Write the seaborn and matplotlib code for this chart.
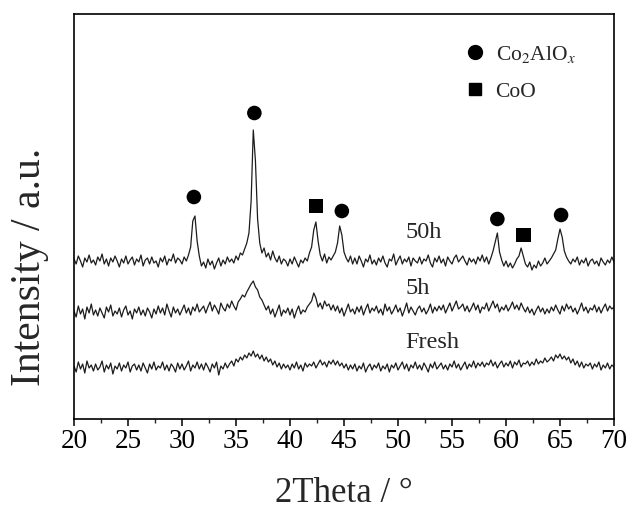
import numpy as np
import pandas as pd
import matplotlib
matplotlib.use("Agg")
import matplotlib.pyplot as plt
import seaborn as sns
from matplotlib.lines import Line2D

sns.set_theme(style="ticks")
plt.rcParams["font.family"] = ["Liberation Serif", "DejaVu Serif"]
plt.rcParams["mathtext.fontset"] = "stix"

# 2Theta grid: 20 .. 70 deg, step 0.2 deg
# ---- intensity values (arbitrary units, offset traces) ----
int_50h = [
    160,155,163,158,152,161,157,164,156,159,
    154,162,158,165,155,160,153,161,157,163,
    158,152,160,156,163,155,159,162,154,160,
    157,164,153,159,161,155,162,156,158,152,
    161,157,163,154,160,158,165,156,161,159,
    155,162,158,164,172,198,203,178,163,153,
    157,151,160,154,158,150,156,161,153,159,
    155,162,157,160,156,163,159,166,164,170,
    176,186,218,289,258,200,176,166,171,162,
    166,159,168,161,157,163,155,160,158,153,
    160,155,162,157,152,159,156,161,158,166,
    172,189,197,178,164,158,165,156,162,159,
    163,167,176,193,184,167,161,157,163,155,
    161,155,163,158,152,160,157,164,155,159,
    154,161,157,163,156,152,160,158,165,154,
    159,163,155,160,157,162,153,161,158,156,
    162,155,160,158,164,156,152,161,157,163,
    156,160,153,162,158,155,161,164,157,160,
    163,158,154,161,157,160,155,162,158,164,
    157,162,155,161,168,177,186,167,159,153,
    158,152,156,151,155,160,163,171,163,155,
    152,157,149,154,151,158,153,156,161,155,
    158,161,165,169,180,190,182,168,162,158,
    155,160,157,162,154,159,156,161,153,158,
    160,155,158,153,161,157,154,159,156,162,
    157,
]
int_5h = [
    108,102,113,105,110,100,112,106,115,104,
    109,103,111,106,101,112,107,114,103,108,
    105,111,102,109,113,104,108,100,110,106,
    112,104,109,103,111,107,101,110,105,113,
    106,111,104,115,108,102,112,106,110,104,
    109,114,106,111,104,112,108,115,107,110,
    113,106,112,117,108,114,110,105,116,111,
    108,115,111,118,113,109,117,120,124,122,
    127,131,135,138,132,129,122,119,114,109,
    113,105,110,102,108,114,103,109,106,111,
    104,110,101,108,113,105,109,107,112,115,
    118,126,121,112,116,110,118,113,115,109,
    114,108,113,106,111,103,109,115,107,110,
    105,112,107,113,104,110,115,106,111,108,
    113,106,110,104,115,108,112,105,109,114,
    107,111,103,109,116,106,112,108,104,110,
    113,107,111,105,109,115,106,112,108,113,
    109,114,106,111,116,108,113,118,110,112,
    115,108,113,107,111,116,109,114,106,112,
    110,116,108,113,118,111,115,107,112,109,
    114,108,112,117,110,114,109,116,111,107,
    112,106,110,104,109,113,107,111,105,110,
    106,112,108,114,109,105,113,108,115,110,
    113,107,111,105,110,116,108,112,106,111,
    109,114,107,112,106,111,115,108,113,110,
    112,
]
int_fresh = [
    53,47,57,50,55,46,58,51,54,48,
    55,49,52,58,47,54,50,56,45,53,
    50,56,48,54,51,57,47,53,55,49,
    54,48,56,51,46,55,50,57,49,53,
    51,57,49,54,48,55,52,47,56,50,
    55,49,53,58,48,54,51,57,50,55,
    49,56,52,47,55,51,57,44,53,50,
    56,51,55,58,53,60,57,62,59,64,
    61,66,63,68,62,65,60,64,58,62,
    57,60,54,58,52,56,50,55,51,54,
    49,55,51,57,50,54,48,56,52,55,
    53,57,51,55,59,54,57,52,58,55,
    59,54,58,53,56,51,55,49,54,50,
    55,48,53,50,56,47,52,55,49,54,
    51,56,48,53,50,55,47,54,51,56,
    49,53,57,50,55,48,54,51,57,50,
    54,49,56,52,47,55,51,57,50,53,
    56,50,54,49,55,52,58,51,55,49,
    53,57,50,55,52,58,51,56,53,57,
    52,56,54,59,53,57,51,55,58,52,
    56,53,58,51,57,54,59,52,56,55,
    58,53,57,54,60,55,58,56,61,57,
    59,62,58,64,61,65,60,63,59,62,
    56,60,54,58,52,57,51,55,53,56,
    50,55,52,57,49,54,51,56,50,54,
    52,
]
samples = ["50h", "5h", "Fresh"]
sample_label_x = [50.7, 50.7, 50.7]
sample_label_y = [186, 131, 77]

# peak markers
co2alox_2theta = [31.1, 36.7, 44.8, 59.2, 65.1]
co2alox_y = [222, 306, 208, 200, 204]
coo_2theta = [42.4, 61.6]
coo_y = [213, 184]

x_ticks = [20, 25, 30, 35, 40, 45, 50, 55, 60, 65, 70]

two_theta = np.linspace(20, 70, len(int_50h))
df = pd.concat([
    pd.DataFrame({"two_theta": two_theta, "intensity": vals, "sample": s})
    for s, vals in zip(samples, [int_50h, int_5h, int_fresh])
])
peaks = pd.DataFrame({
    "two_theta": co2alox_2theta + coo_2theta,
    "y": co2alox_y + coo_y,
    "phase": ["Co2AlOx"] * len(co2alox_2theta) + ["CoO"] * len(coo_2theta),
})

fig = plt.figure(figsize=(6.32, 5.12), dpi=100)
ax = fig.add_axes([74 / 632, 1 - 419 / 512, 540 / 632, 405 / 512])

for s in samples:
    sns.lineplot(data=df[df["sample"] == s], x="two_theta", y="intensity",
                 color="#1c1c1c", linewidth=0.9, ax=ax, legend=False)

sns.scatterplot(data=peaks, x="two_theta", y="y", style="phase",
                markers={"Co2AlOx": "o", "CoO": "s"}, color="black",
                s=110, edgecolor="none", ax=ax, legend=False)

for s, tx, ty in zip(samples, sample_label_x, sample_label_y):
    ax.text(tx, ty, s, fontsize=17.5, ha="left", va="center")

handles = [
    Line2D([], [], marker="o", color="black", linestyle="none", markersize=10),
    Line2D([], [], marker="s", color="black", linestyle="none", markersize=8.5),
]
ax.legend(handles, ["Co$_2$AlO$_x$", "CoO"], loc="upper left",
          bbox_to_anchor=(0.683, 0.975), frameon=False, fontsize=15.5,
          handletextpad=0.35, labelspacing=0.8, handlelength=1.2)

ax.set_xlim(20, 70)
ax.set_ylim(0, 405)
ax.set_xticks(x_ticks)
ax.set_xticks(np.arange(22.5, 70, 5), minor=True)
ax.set_yticks([])
ax.tick_params(axis="x", which="major", direction="out", length=5, width=1.1,
               labelsize=19.5, pad=2, colors="black")
ax.tick_params(axis="x", which="minor", direction="out", length=2.8, width=1.0)
for sp in ax.spines.values():
    sp.set_visible(True)
    sp.set_linewidth(1.2)
    sp.set_color("black")

ax.set_xlabel("2Theta / °", fontsize=25)
ax.set_ylabel("Intensity / a.u.", fontsize=30)
ax.xaxis.set_label_coords(0.5, -0.142)
ax.yaxis.set_label_coords(-0.047, 0.375)

fig.savefig("out.png", dpi=100)
